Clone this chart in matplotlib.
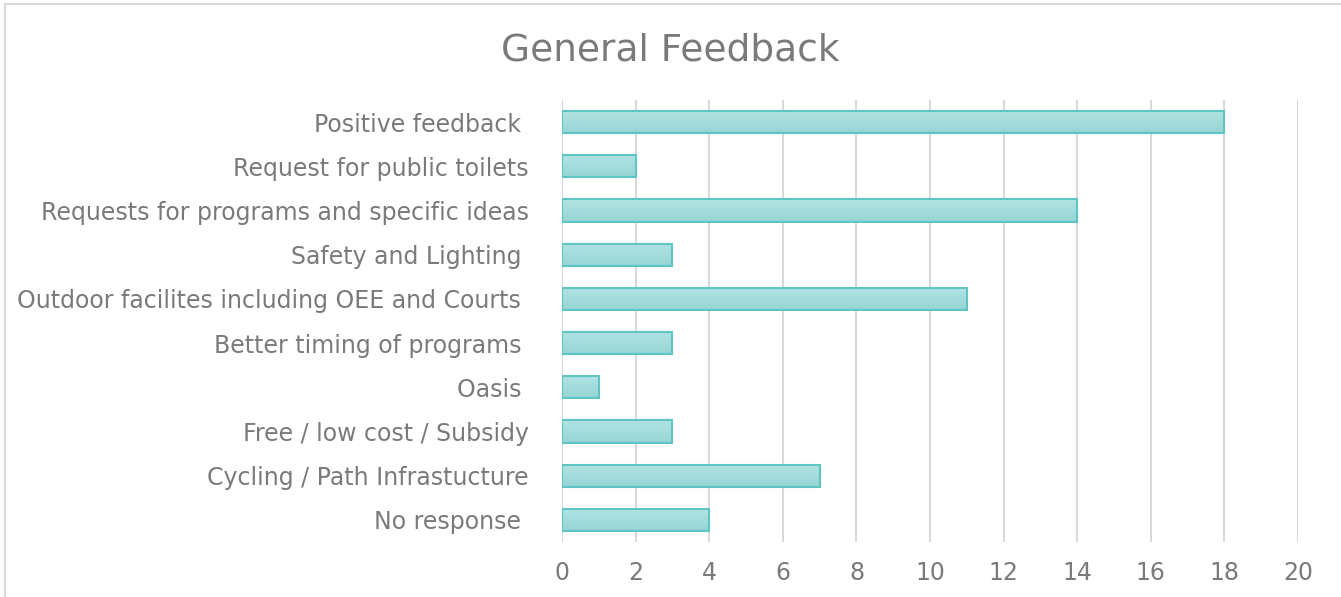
import numpy as np
import matplotlib.pyplot as plt
from matplotlib.patches import Rectangle
from matplotlib.colors import LinearSegmentedColormap

categories = ["Positive feedback ", "Request for public toilets",
              "Requests for programs and specific ideas", "Safety and Lighting ",
              "Outdoor facilites including OEE and Courts ", "Better timing of programs ",
              "Oasis ", "Free / low cost / Subsidy", "Cycling / Path Infrastucture",
              "No response "]
counts = [18, 2, 14, 3, 11, 3, 1, 3, 7, 4]
xticks = [0, 2, 4, 6, 8, 10, 12, 14, 16, 18, 20]

text_col = "#7a7a7a"

fig = plt.figure(figsize=(13.41, 5.97), dpi=100)
# light frame round the chart (right and bottom edges fall outside the picture)
fig.patches.append(Rectangle((0.0040, -0.01), 1.2, 1.0033, transform=fig.transFigure,
                             fill=False, edgecolor="#d9d9d9", linewidth=1.5))
ax = fig.add_axes([0.4191, 0.0921, 0.5489, 0.7404])

y = list(range(len(categories)))
bars = ax.barh(y, counts, height=0.5, color="none", edgecolor="#5ec4c4", linewidth=1.5, zorder=4)

# vertical gradient fill for each bar
grad = LinearSegmentedColormap.from_list("g", ["#b3e3e3", "#96d5d5"])
for b in bars:
    x0, y0 = b.get_x(), b.get_y()
    w, h = b.get_width(), b.get_height()
    im = ax.imshow(np.linspace(0, 1, 50).reshape(-1, 1), cmap=grad, aspect="auto",
                   extent=(x0, x0 + w, y0, y0 + h), origin="lower", zorder=3)
    im.set_clip_path(b)

ax.set_xlim(0, 20)
ax.set_ylim(len(categories) - 0.5, -0.5)
ax.set_xticks(xticks)
ax.set_yticks(y)
ax.set_yticklabels(categories)
ax.tick_params(axis="y", length=0, pad=24, labelsize=17, labelcolor=text_col)
ax.tick_params(axis="x", length=0, pad=14, labelsize=17, labelcolor=text_col)
ax.grid(axis="x", color="#d9d9d9", linewidth=1.5, zorder=0)
for s in ax.spines.values():
    s.set_visible(False)

fig.text(0.5, 0.915, "General Feedback", ha="center", va="center", fontsize=27, color=text_col)

fig.savefig("out.png", dpi=100)
